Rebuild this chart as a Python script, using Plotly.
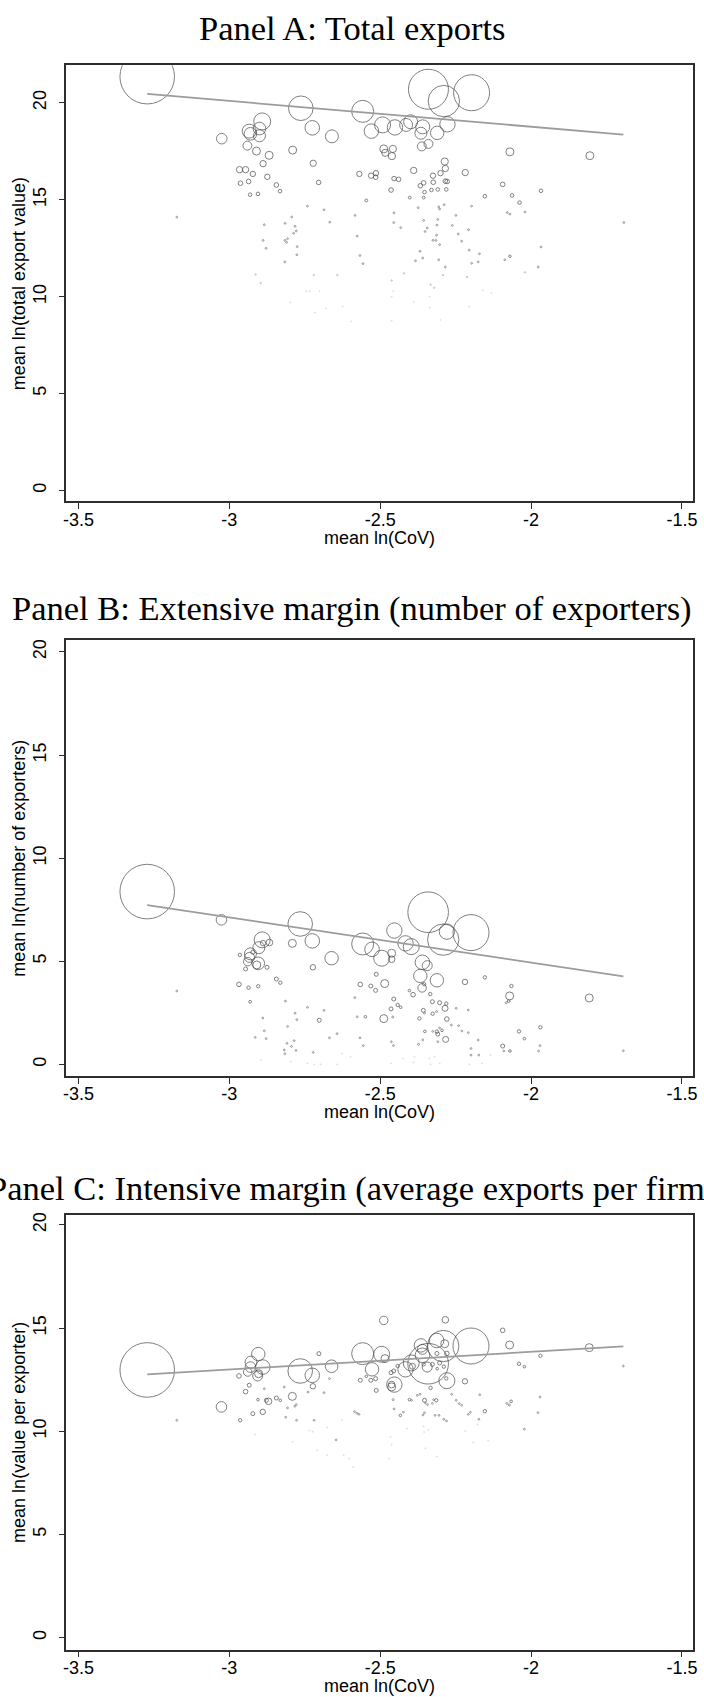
import plotly.graph_objects as go

# ---------------- data ----------------
x_ticks = [-3.5, -3, -2.5, -2, -1.5]
x_tick_text = ["-3.5", "-3", "-2.5", "-2", "-1.5"]
y_ticks = [0, 5, 10, 15, 20]
y_tick_text = ["0", "5", "10", "15", "20"]

panel_titles = ["Panel A: Total exports",
                "Panel B: Extensive margin (number of exporters)",
                "Panel C: Intensive margin (average exports per firm)"]
y_titles = ["mean ln(total export value)",
            "mean ln(number of exporters)",
            "mean ln(value per exporter)"]
x_title = "mean ln(CoV)"

# Panel A: mean ln(CoV), mean ln(total export value), weight
x_a = [-3.272, -2.340, -2.289, -2.197, -2.763, -2.558, -2.891, -2.934, -2.900, -2.930,
       -2.900, -2.725, -2.660, -3.025, -2.529, -2.492, -2.451, -2.414, -2.399, -2.359,
       -2.365, -2.311, -2.277, -2.362, -2.340, -2.940, -2.910, -2.868, -2.790, -2.488,
       -2.483, -2.458, -2.461, -2.070, -1.805, -2.286, -2.284, -2.888, -2.722, -2.966,
       -2.946, -2.389, -2.218, -2.922, -2.874, -2.569, -2.530, -2.514, -2.515, -2.325,
       -2.300, -2.454, -2.439, -2.284, -2.278, -2.936, -2.963, -2.704, -2.844, -2.832,
       -2.356, -2.367, -2.324, -2.464, -2.353, -2.330, -2.309, -2.281, -2.094, -2.063,
       -1.967, -2.153, -2.038, -2.931, -2.905, -2.402, -2.356, -2.546,
       -3.174, -2.741, -2.686, -2.793, -2.884, -2.815, -2.782, -2.778, -2.787, -2.667,
       -2.583, -2.576, -2.888, -2.816, -2.807, -2.810, -2.775, -2.878, -2.776, -2.816,
       -2.567, -2.557, -2.454, -2.455, -2.432, -2.374, -2.356, -2.344, -2.351, -2.309,
       -2.312, -2.306, -2.303, -2.288, -2.249, -2.261, -2.207, -2.241, -2.313, -2.325,
       -2.315, -2.303, -2.230, -2.205, -2.368, -2.359, -2.383, -2.306, -2.284, -2.197,
       -2.171, -2.175, -2.197, -2.079, -2.070, -2.020, -2.070, -2.087, -1.967, -1.976,
       -1.692,
       -2.720, -2.642, -2.913, -2.896, -2.020, -2.421, -2.292, -2.212, -2.462, -2.333,
       -2.321, -2.456, -2.745, -2.734, -2.701, -2.160, -2.131, -2.797, -2.716, -2.679,
       -2.625, -2.462, -2.336, -2.336, -2.389, -2.205, -2.595, -2.462, -2.300]
y_a = [21.35, 20.70, 20.09, 20.52, 19.72, 19.56, 19.04, 18.54, 18.67, 18.40,
       18.30, 18.71, 18.27, 18.15, 18.54, 18.86, 18.73, 18.86, 19.02, 18.76,
       18.43, 18.45, 18.89, 17.75, 17.88, 17.79, 17.51, 17.29, 17.56, 17.62,
       17.42, 17.62, 17.25, 17.47, 17.27, 16.97, 16.61, 16.86, 16.88, 16.55,
       16.55, 16.51, 16.40, 16.33, 16.18, 16.33, 16.24, 16.37, 16.16, 16.24,
       16.37, 16.09, 16.05, 15.96, 15.94, 15.94, 15.85, 15.89, 15.76, 15.44,
       15.87, 15.72, 15.90, 15.50, 15.39, 15.50, 15.53, 15.53, 15.79, 15.22,
       15.46, 15.18, 14.85, 15.26, 15.30, 15.11, 15.11, 14.96,
       14.10, 14.67, 14.48, 14.11, 13.71, 13.78, 13.63, 13.39, 13.27, 13.84,
       14.19, 13.12, 12.90, 12.90, 12.99, 12.80, 12.58, 12.49, 12.16, 11.79,
       12.12, 11.70, 14.32, 13.82, 13.56, 14.59, 13.93, 13.54, 13.36, 13.98,
       13.69, 14.63, 14.52, 14.74, 14.19, 13.67, 13.45, 13.23, 13.17, 12.90,
       12.90, 12.68, 12.86, 12.40, 12.34, 11.99, 11.85, 11.90, 11.53, 11.72,
       12.21, 11.79, 14.67, 14.34, 14.26, 14.37, 12.08, 11.90, 12.56, 11.53,
       13.82,
       11.11, 11.11, 11.14, 10.70, 11.25, 11.20, 11.11, 11.01, 10.83, 10.61,
       10.46, 10.28, 10.28, 10.28, 10.28, 10.33, 10.18, 9.70, 9.17, 9.39,
       9.48, 10.00, 10.00, 9.43, 9.72, 9.48, 8.71, 8.76, 8.80]
w_a = [745, 400, 246, 324, 151, 121, 72, 49, 40, 40,
       36, 53, 42, 28, 53, 64, 59, 42, 49, 49,
       36, 45, 59, 20, 20, 20, 16, 16, 16, 16,
       13, 13, 13, 16, 16, 13, 10, 10, 10, 10,
       10, 10, 10, 7.3, 7.3, 7.3, 7.3, 7.3, 5.3, 7.3,
       7.3, 5.3, 5.3, 5.3, 5.3, 5.3, 5.3, 5.3, 5.3, 3.2,
       5.3, 5.3, 5.3, 5.3, 3.2, 3.2, 3.2, 3.2, 5.3, 3.2,
       3.2, 3.2, 3.2, 3.2, 3.2, 2, 2, 2,
       0.8, 0.8, 0.8, 0.8, 0.8, 0.8, 0.8, 0.8, 0.8, 0.8,
       0.8, 0.8, 0.8, 0.8, 0.8, 0.8, 0.8, 0.8, 0.8, 0.8,
       0.8, 0.8, 0.8, 0.8, 0.8, 0.8, 0.8, 0.8, 0.8, 0.8,
       0.8, 0.8, 0.8, 0.8, 0.8, 0.8, 0.8, 0.8, 0.8, 0.8,
       0.8, 0.8, 0.8, 0.8, 0.8, 0.8, 0.8, 0.8, 0.8, 0.8,
       0.8, 0.8, 0.8, 0.8, 0.8, 0.8, 1.5, 0.8, 0.8, 0.8,
       0.8,
       0.5, 0.5, 0.5, 0.5, 0.5, 0.5, 0.5, 0.5, 0.5, 0.5,
       0.5, 0.3, 0.3, 0.3, 0.3, 0.3, 0.3, 0.3, 0.3, 0.3,
       0.3, 0.3, 0.3, 0.3, 0.3, 0.3, 0.3, 0.3, 0.3]

# Panel B: mean ln(CoV), mean ln(number of exporters), weight
x_b = [-3.272, -3.026, -2.765, -2.891, -2.902, -2.725, -2.791, -2.867, -2.888, -2.930,
       -2.933, -2.939, -2.904, -2.909, -2.661, -2.965, -2.922, -2.946, -2.875, -2.723,
       -2.558, -2.527, -2.495, -2.968, -2.936, -2.904, -2.844, -2.831, -2.931, -2.566,
       -2.531, -2.515, -2.513, -2.702, -2.341, -2.199, -2.291, -2.279, -2.453, -2.416,
       -2.397, -2.462, -2.462, -2.360, -2.344, -2.367, -2.312, -2.361, -2.354, -2.485,
       -2.219, -2.153, -2.071, -2.065, -2.082, -2.074, -1.807, -2.391, -2.403, -2.334,
       -2.455, -2.442, -2.432, -2.464, -2.327, -2.303, -2.281, -2.285, -2.357, -2.353,
       -2.326, -2.313, -2.279, -2.370, -2.488, -2.458, -2.549, -2.352, -2.312, -2.309,
       -2.295, -2.283, -2.373, -2.040, -1.969, -2.022, -2.094, -2.070,
       -1.694, -3.174, -2.814, -2.741, -2.782, -2.776, -2.686, -2.889, -2.884, -2.807,
       -2.878, -2.914, -2.785, -2.809, -2.794, -2.779, -2.818, -2.816, -2.668, -2.643,
       -2.722, -2.584, -2.576, -2.567, -2.556, -2.248, -2.208, -2.264, -2.240, -2.229,
       -2.208, -2.326, -2.303, -2.309, -2.359, -2.090, -2.175, -2.199, -2.199, -2.173,
       -1.970, -1.975, -2.463, -2.456,
       -2.895, -2.796, -2.741, -2.719, -2.697, -2.643, -2.626, -2.598, -2.424, -2.386,
       -2.337, -2.320, -2.464, -2.390, -2.333, -2.303, -2.204, -2.163, -2.134]
y_b = [8.38, 7.01, 6.81, 6.04, 5.66, 5.99, 5.87, 5.91, 5.88, 5.36,
       5.19, 4.98, 4.90, 4.82, 5.15, 5.31, 5.44, 4.63, 4.71, 4.71,
       5.84, 5.58, 5.15, 3.88, 3.72, 3.79, 4.14, 3.96, 3.04, 3.88,
       3.80, 3.59, 4.37, 2.14, 7.38, 6.39, 6.05, 6.44, 6.49, 5.87,
       5.71, 5.39, 5.10, 4.95, 4.79, 4.29, 4.08, 3.71, 3.89, 3.92,
       4.00, 4.22, 3.32, 3.80, 2.99, 3.07, 3.22, 3.38, 3.58, 3.41,
       3.17, 2.88, 2.77, 2.69, 3.04, 2.99, 2.95, 2.72, 2.62, 2.49,
       2.46, 2.56, 2.20, 2.23, 2.22, 2.30, 2.31, 1.60, 1.59, 1.47,
       1.65, 1.21, 0.97, 1.60, 1.80, 1.25, 0.89, 0.65,
       0.66, 3.56, 3.07, 2.77, 2.48, 2.17, 2.62, 2.25, 1.63, 1.84,
       1.25, 1.31, 1.15, 1.02, 0.87, 0.68, 0.70, 0.52, 1.29, 1.49,
       0.58, 3.24, 2.31, 1.29, 0.91, 2.72, 2.64, 1.91, 1.88, 1.62,
       1.54, 1.60, 1.77, 1.10, 1.19, 0.65, 1.18, 0.77, 0.45, 0.45,
       0.91, 0.65, 1.10, 0.91,
       0.21, 0.13, 0.05, 0.00, 0.00, 0.00, 0.53, 0.37, 0.29, 0.37,
       0.29, 0.37, 0.05, 0.10, 0.00, 0.05, 0.00, 0.05, 0.45]
w_b = [745, 28, 151, 64, 36, 53, 16, 11, 7.3, 36,
       25, 18, 40, 16, 45, 2.9, 4, 4, 4, 7.3,
       121, 53, 64, 5.3, 2.9, 2.9, 4, 2.9, 2, 5.3,
       4, 4, 4, 4, 412, 324, 246, 59, 59, 59,
       64, 16, 11, 53, 25, 45, 45, 18, 2.9, 16,
       7.3, 2.9, 16, 2.9, 1, 1.7, 16, 5.3, 1.7, 2.9,
       4, 2.9, 1.7, 4, 4, 4, 2.9, 9, 4, 1,
       2.9, 1, 5.3, 2.9, 16, 1, 1.7, 1.7, 2.9, 4,
       1.7, 9, 1, 2.9, 2.9, 1.7, 4, 1.7,
       0.8, 0.8, 0.8, 0.8, 0.8, 0.8, 0.8, 0.8, 0.8, 0.8,
       0.8, 0.8, 0.8, 0.8, 0.8, 0.8, 0.8, 0.8, 0.8, 0.8,
       0.8, 0.8, 0.8, 0.8, 0.8, 0.8, 0.8, 0.8, 0.8, 0.8,
       0.8, 0.8, 0.8, 0.8, 0.8, 0.8, 0.8, 0.8, 0.8, 0.8,
       0.8, 0.8, 0.8, 0.8,
       0.3, 0.3, 0.3, 0.3, 0.3, 0.3, 0.3, 0.3, 0.3, 0.3,
       0.3, 0.3, 0.3, 0.3, 0.3, 0.3, 0.3, 0.3, 0.3]

# Panel C: mean ln(CoV), mean ln(value per exporter), weight
x_c = [-3.272, -3.026, -2.765, -2.725, -2.661, -2.904, -2.928, -2.930, -2.889, -2.939,
       -2.906, -2.903, -2.968, -2.934, -2.946, -2.905, -2.870, -2.877, -2.844, -2.831,
       -2.791, -2.723, -2.703, -2.889, -2.922, -2.964, -2.558, -2.527, -2.495, -2.566,
       -2.531, -2.515, -2.546, -2.513, -2.199, -2.341, -2.291, -2.488, -2.284, -2.094,
       -2.071, -1.969, -1.807, -1.694, -2.040, -2.022, -2.484, -2.365, -2.360, -2.360,
       -2.313, -2.286, -2.279, -2.312, -2.397, -2.416, -2.453, -2.462, -2.462, -2.464,
       -2.455, -2.442, -2.393, -2.344, -2.356, -2.327, -2.303, -2.289, -2.311, -2.279,
       -2.281, -2.219, -2.333, -2.403, -2.353, -2.314, -2.457, -2.433, -2.153, -2.066,
       -2.080, -2.072,
       -3.174, -2.884, -2.818, -2.807, -2.813, -2.778, -2.783, -2.777, -2.719, -2.739,
       -2.668, -2.686, -2.585, -2.577, -2.570, -2.454, -2.423, -2.358, -2.353, -2.318,
       -2.305, -2.289, -2.280, -2.263, -2.248, -2.230, -2.238, -2.208, -2.201, -2.170,
       -2.173, -1.970, -1.977, -2.022, -2.646, -2.368, -2.323, -2.327, -2.343, -2.350,
       -2.396, -2.377,
       -2.914, -2.735, -2.724, -2.675, -2.790, -2.709, -2.676, -2.621, -2.590, -2.626,
       -2.411, -2.356, -2.354, -2.340, -2.177, -2.218, -2.142, -2.466, -2.462, -2.350,
       -2.312, -2.471, -2.192, -2.603]
y_c = [12.97, 11.18, 12.92, 12.71, 13.15, 13.74, 13.35, 13.11, 13.11, 12.87,
       12.68, 12.79, 12.68, 12.23, 11.92, 11.53, 11.45, 11.50, 11.61, 11.50,
       11.69, 12.18, 13.76, 10.94, 10.85, 10.53, 13.76, 13.00, 13.73, 12.47,
       12.47, 12.55, 12.66, 11.98, 14.13, 13.27, 14.13, 15.37, 15.40, 14.89,
       14.18, 13.66, 14.05, 13.16, 13.27, 13.13, 13.52, 14.16, 13.97, 13.68,
       14.40, 14.24, 13.77, 13.77, 13.31, 13.00, 12.26, 12.15, 12.26, 12.84,
       12.92, 13.16, 13.15, 13.11, 13.24, 13.24, 13.31, 13.13, 13.03, 12.45,
       12.56, 12.42, 12.10, 11.53, 11.50, 11.50, 11.53, 10.77, 10.97, 11.45,
       11.35, 11.27,
       10.53, 12.06, 12.14, 11.13, 10.68, 11.29, 11.21, 10.53, 10.53, 11.90,
       12.55, 11.87, 10.95, 10.87, 10.82, 11.08, 10.92, 10.79, 10.90, 10.77,
       10.77, 10.58, 10.50, 11.79, 11.50, 11.26, 11.34, 10.82, 10.92, 11.77,
       10.58, 11.66, 10.90, 10.10, 9.58, 11.79, 11.53, 11.35, 11.29, 11.37,
       11.50, 11.74,
       9.84, 10.03, 9.98, 10.19, 9.48, 9.08, 8.84, 8.84, 8.27, 10.55,
       10.13, 10.24, 9.96, 10.05, 10.32, 10.00, 9.55, 9.72, 9.35, 9.17,
       8.77, 8.67, 9.46, 8.67]
w_c = [745, 28, 151, 53, 40, 45, 36, 28, 53, 18,
       25, 16, 5.3, 4, 5.3, 1.7, 11, 4, 4, 1.7,
       16, 7.3, 4, 7.3, 4, 2.9, 121, 45, 64, 4,
       4, 4, 1.7, 4, 324, 412, 246, 18, 11, 5.3,
       16, 2.9, 16, 0.8, 2.9, 1.7, 16, 45, 25, 53,
       53, 16, 5.3, 4, 64, 59, 59, 16, 11, 4,
       4, 2.9, 9, 25, 2.9, 4, 4, 2.9, 1.7, 64,
       2.9, 7.3, 2.9, 1.7, 4, 2.9, 1, 1.7, 2.9, 1.7,
       1, 1,
       0.8, 0.8, 0.8, 0.8, 0.8, 0.8, 0.8, 0.8, 0.8, 0.8,
       0.8, 0.8, 0.8, 0.8, 0.8, 0.8, 0.8, 0.8, 0.8, 0.8,
       0.8, 0.8, 0.8, 0.8, 0.8, 0.8, 0.8, 0.8, 0.8, 0.8,
       0.8, 0.8, 0.8, 0.8, 0.8, 0.8, 0.8, 0.8, 0.8, 0.8,
       0.8, 0.8,
       0.3, 0.3, 0.3, 0.3, 0.3, 0.3, 0.3, 0.3, 0.3, 0.3,
       0.3, 0.3, 0.3, 0.3, 0.3, 0.3, 0.3, 0.3, 0.3, 0.3,
       0.3, 0.3, 0.3, 0.3]

# Weighted linear fits (endpoints)
fit_x = [-3.272, -1.694]
fit_a = [20.46, 18.36]
fit_b = [7.72, 4.27]
fit_c = [12.76, 14.11]

# ---------------- figure ----------------
W, H = 704, 1697
FRAME_L, FRAME_R = 64.0, 697.3
frames = [(63.3, 500.0), (639.0, 1075.0), (1214.0, 1649.5)]   # top, bottom (px)
y_ranges = [[-0.57, 21.94], [-0.55, 20.57], [-0.58, 20.50]]
x_range = [-3.540, -1.462]

FRAME_COL = "#2e2e2e"
MARK_COL = "#4a4a4a"
FIT_COL = "#9c9c9c"
SANS = "Liberation Sans, Arial, Helvetica, sans-serif"
SERIF = "Liberation Serif, Times New Roman, serif"


def mark_colors(ws):
    out = []
    for w in ws:
        if w < 0.4:
            out.append("#d0d0d0")
        elif w < 0.6:
            out.append("#a8a8a8")
        elif w < 1.2:
            out.append("#6a6a6a")
        else:
            out.append(MARK_COL)
    return out


fig = go.Figure()
series = [(x_a, y_a, w_a, fit_a), (x_b, y_b, w_b, fit_b), (x_c, y_c, w_c, fit_c)]
for i, (xs, ys, ws, fy) in enumerate(series):
    suf = "" if i == 0 else str(i + 1)
    fig.add_trace(go.Scatter(
        x=xs, y=ys, mode="markers", xaxis="x" + suf, yaxis="y" + suf,
        marker=dict(symbol="circle", size=ws, sizemode="area", sizeref=0.5,
                    color="rgba(0,0,0,0)",
                    line=dict(color=mark_colors(ws), width=1)),
        showlegend=False, hoverinfo="skip"))
    fig.add_trace(go.Scatter(
        x=fit_x, y=fy, mode="lines", xaxis="x" + suf, yaxis="y" + suf,
        line=dict(color=FIT_COL, width=1.8), showlegend=False, hoverinfo="skip"))

layout = dict(width=W, height=H, margin=dict(l=0, r=0, t=0, b=0, pad=0),
              paper_bgcolor="white", plot_bgcolor="white", showlegend=False)

annotations = []
title_y = [26.5, 607.5, 1188.0]
for i, (top, bot) in enumerate(frames):
    suf = "" if i == 0 else str(i + 1)
    layout["xaxis" + suf] = dict(
        domain=[FRAME_L / W, FRAME_R / W], range=x_range, anchor="y" + suf,
        tickvals=x_ticks, ticktext=x_tick_text, ticks="outside", ticklen=6,
        tickwidth=1.2, tickcolor=FRAME_COL, showline=True, linecolor=FRAME_COL,
        linewidth=1.6, mirror=True, showgrid=False, zeroline=False,
        ticklabelstandoff=-5,
        tickfont=dict(family=SANS, size=18, color="black"))
    layout["yaxis" + suf] = dict(
        domain=[1 - bot / H, 1 - top / H], range=y_ranges[i], anchor="x" + suf,
        tickvals=y_ticks, ticktext=y_tick_text, ticks="outside", ticklen=6,
        tickwidth=1.2, tickcolor=FRAME_COL, showline=True, linecolor=FRAME_COL,
        linewidth=1.6, mirror=True, showgrid=False, zeroline=False, tickangle=-90,
        ticklabelstandoff=5,
        tickfont=dict(family=SANS, size=18, color="black"))
    annotations.append(dict(text=panel_titles[i], x=352 / W, y=1 - title_y[i] / H,
                            xref="paper", yref="paper", xanchor="center", yanchor="middle",
                            showarrow=False, font=dict(family=SERIF, size=34.5, color="black")))
    annotations.append(dict(text=y_titles[i], x=16.0 / W, y=1 - (top + bot) / 2 / H,
                            xref="paper", yref="paper", xanchor="center", yanchor="middle",
                            textangle=-90, showarrow=False,
                            font=dict(family=SANS, size=18, color="black")))
    annotations.append(dict(text=x_title, x=(FRAME_L + FRAME_R) / 2 / W, y=1 - (bot + 36.5) / H,
                            xref="paper", yref="paper", xanchor="center", yanchor="middle",
                            showarrow=False, font=dict(family=SANS, size=18, color="black")))
layout["annotations"] = annotations
fig.update_layout(**layout)

page_fix = ("document.documentElement.style.margin='0';"
            "document.body.style.margin='0';document.body.style.padding='0';"
            "document.body.style.overflow='hidden';"
            "document.documentElement.style.overflow='hidden';")
fig.write_html("out.html", post_script=page_fix, config={"displayModeBar": False})
